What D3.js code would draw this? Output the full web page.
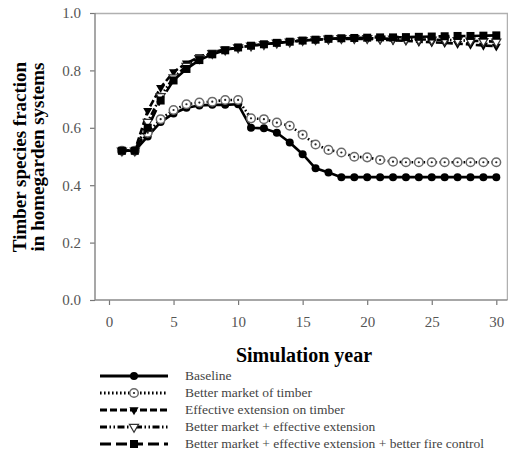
<!DOCTYPE html>
<html>
<head>
<meta charset="utf-8">
<script src="https://cdn.jsdelivr.net/npm/d3@7"></script>
<style>
  html, body { margin: 0; padding: 0; background: #fff; }
  svg { display: block; }
  svg text { font-family: "Liberation Serif", "DejaVu Serif", serif; }
</style>
</head>
<body>
<svg id="chart" width="508" height="455"></svg>
<script>
// Simulation years 1..30
const years = d3.range(1, 31);

// Timber species fraction per scenario
const baseline = [0.52, 0.52, 0.57, 0.62, 0.65, 0.67, 0.678, 0.68, 0.68, 0.682,
  0.60, 0.598, 0.583, 0.549, 0.508, 0.459, 0.444, 0.428, 0.428, 0.428,
  0.428, 0.428, 0.428, 0.428, 0.428, 0.428, 0.428, 0.428, 0.428, 0.428];
const betterMarket = [0.52, 0.52, 0.583, 0.63, 0.662, 0.682, 0.688, 0.691, 0.697, 0.697,
  0.633, 0.630, 0.618, 0.607, 0.576, 0.542, 0.523, 0.514, 0.499, 0.497,
  0.488, 0.482, 0.48, 0.48, 0.48, 0.48, 0.48, 0.48, 0.48, 0.48];
const effectiveExtension = [0.52, 0.52, 0.66, 0.74, 0.795, 0.825, 0.847, 0.863, 0.873, 0.88,
  0.886, 0.891, 0.896, 0.90, 0.904, 0.907, 0.909, 0.91, 0.91, 0.91,
  0.907, 0.905, 0.903, 0.90, 0.898, 0.896, 0.893, 0.89, 0.887, 0.884];
const marketExtension = [0.52, 0.52, 0.62, 0.71, 0.775, 0.815, 0.842, 0.86, 0.872, 0.88,
  0.886, 0.891, 0.896, 0.90, 0.905, 0.908, 0.91, 0.912, 0.912, 0.912,
  0.911, 0.91, 0.909, 0.908, 0.907, 0.906, 0.905, 0.903, 0.902, 0.90];
const fireControl = [0.52, 0.52, 0.60, 0.695, 0.765, 0.805, 0.836, 0.856, 0.87, 0.88,
  0.886, 0.891, 0.896, 0.90, 0.904, 0.907, 0.91, 0.912, 0.913, 0.914,
  0.915, 0.915, 0.916, 0.917, 0.918, 0.919, 0.92, 0.92, 0.921, 0.922];

const seriesNames = [
  "Baseline",
  "Better market of timber",
  "Effective extension on timber",
  "Better market + effective extension",
  "Better market + effective extension + better fire control"
];
const seriesValues = [baseline, betterMarket, effectiveExtension, marketExtension, fireControl];

const xTicks = [0, 5, 10, 15, 20, 25, 30];
const yTicks = [0, 0.2, 0.4, 0.6, 0.8, 1.0];

// Line and marker styling per scenario
const styles = [
  { dash: null, marker: "dot" },
  { dash: "1.6,2.4", marker: "ring" },
  { dash: "7,3", marker: "tri" },
  { dash: "7,2.5,1.5,2.5,1.5,2.5", marker: "triOpen" },
  { dash: "11,5", marker: "square" }
];

const svg = d3.select("#chart");

const plot = { left: 95, right: 507, top: 13, bottom: 300 };
const x = d3.scaleLinear().domain([0, 30]).range([109, 496.3]);
const y = d3.scaleLinear().domain([0, 1]).range([plot.bottom, plot.top]);

// frame (top and right edges)
svg.append("path")
  .attr("d", `M${plot.left},${plot.top + 0.5}H${plot.right + 0.5}V${plot.bottom}`)
  .attr("fill", "none").attr("stroke", "#b0b0b0").attr("stroke-width", 1.5);

// x axis
const xAxis = svg.append("g")
  .attr("transform", `translate(0,${plot.bottom})`)
  .call(d3.axisBottom(x).tickValues(xTicks).tickSize(5).tickPadding(11).tickFormat(d3.format("d")));
xAxis.attr("font-family", null).attr("font-size", null);
xAxis.select(".domain").remove();
xAxis.append("line").attr("x1", plot.left).attr("x2", plot.right + 0.5)
  .attr("stroke", "#8a8a8a").attr("stroke-width", 1.5);
xAxis.selectAll(".tick line").attr("stroke", "#777").attr("stroke-width", 1.2);
xAxis.selectAll(".tick text").style("font-size", "15px").attr("fill", "#555");

// y axis
const yAxis = svg.append("g")
  .attr("transform", `translate(${plot.left},0)`)
  .call(d3.axisLeft(y).tickValues(yTicks).tickSize(5).tickPadding(9).tickFormat(d3.format(".1f")));
yAxis.attr("font-family", null).attr("font-size", null);
yAxis.select(".domain").remove();
yAxis.append("line").attr("y1", plot.top).attr("y2", plot.bottom)
  .attr("stroke", "#8a8a8a").attr("stroke-width", 1.5);
yAxis.selectAll(".tick line").attr("stroke", "#777").attr("stroke-width", 1.2);
yAxis.selectAll(".tick text").style("font-size", "15px").attr("fill", "#555");

// axis titles
svg.append("text")
  .attr("x", 304).attr("y", 362)
  .attr("text-anchor", "middle")
  .style("font-weight", "bold").style("font-size", "20px")
  .text("Simulation year");

const yTitle = svg.append("text")
  .attr("transform", "translate(26,157) rotate(-90)")
  .attr("text-anchor", "middle")
  .style("font-weight", "bold").style("font-size", "19px");
yTitle.append("tspan").attr("x", 0).attr("y", 0).text("Timber species fraction");
yTitle.append("tspan").attr("x", 0).attr("y", 18).text("in homegarden systems");

// marker drawing
function drawMarker(g, kind, cx, cy) {
  if (kind === "dot") {
    g.append("circle").attr("cx", cx).attr("cy", cy).attr("r", 4).attr("fill", "#000");
  } else if (kind === "ring") {
    g.append("circle").attr("cx", cx).attr("cy", cy).attr("r", 4.3)
      .attr("fill", "#fff").attr("stroke", "#6a6a6a").attr("stroke-width", 1.5);
    g.append("circle").attr("cx", cx).attr("cy", cy).attr("r", 1.1).attr("fill", "#222");
  } else if (kind === "tri") {
    g.append("path").attr("d", d3.symbol(d3.symbolTriangle, 36)())
      .attr("transform", `translate(${cx},${cy}) rotate(180)`).attr("fill", "#000");
  } else if (kind === "triOpen") {
    g.append("path").attr("d", d3.symbol(d3.symbolTriangle, 36)())
      .attr("transform", `translate(${cx},${cy}) rotate(180)`)
      .attr("fill", "#fff").attr("stroke", "#333").attr("stroke-width", 1.2);
  } else if (kind === "square") {
    g.append("rect").attr("x", cx - 4).attr("y", cy - 4).attr("width", 8).attr("height", 8)
      .attr("fill", "#000");
  }
}

const line = d3.line().x(d => x(d.year)).y(d => y(d.value));

seriesValues.forEach((vals, i) => {
  const data = years.map((yr, k) => ({ year: yr, value: vals[k] }));
  const g = svg.append("g").attr("class", "series");
  g.append("path")
    .datum(data)
    .attr("d", line)
    .attr("fill", "none")
    .attr("stroke", "#000")
    .attr("stroke-width", 2.6)
    .attr("stroke-linejoin", "round")
    .attr("stroke-dasharray", styles[i].dash);
  data.forEach(d => drawMarker(g, styles[i].marker, x(d.year), y(d.value)));
});

// legend
const legend = svg.append("g").attr("class", "legend");
seriesNames.forEach((name, i) => {
  const ly = 376 + i * 17;
  const row = legend.append("g");
  row.append("line")
    .attr("x1", 100).attr("x2", 168).attr("y1", ly).attr("y2", ly)
    .attr("stroke", "#000").attr("stroke-width", 3)
    .attr("stroke-dasharray", styles[i].dash);
  drawMarker(row, styles[i].marker, 134, ly);
  row.append("text")
    .attr("x", 185).attr("y", ly + 4)
    .style("font-size", "13.5px").attr("fill", "#444")
    .text(name);
});
</script>
</body>
</html>
